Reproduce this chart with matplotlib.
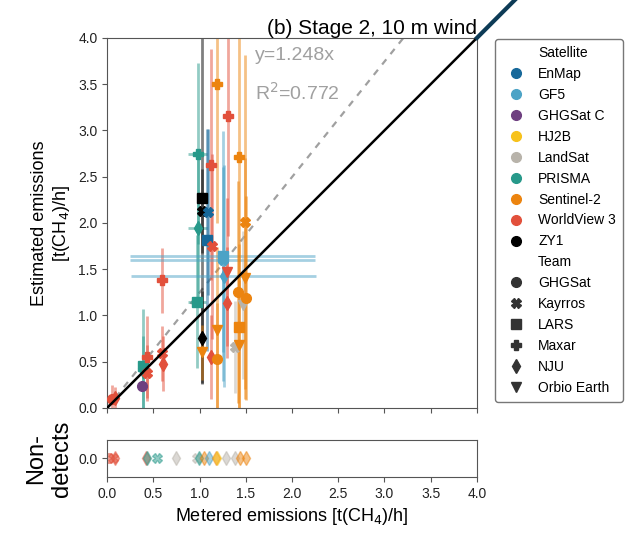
import numpy as np
import matplotlib.pyplot as plt
from matplotlib.lines import Line2D

plt.rcParams['font.family'] = ['Liberation Sans', 'DejaVu Sans']

sat_names = ["EnMap", "GF5", "GHGSat C", "HJ2B", "LandSat", "PRISMA",
             "Sentinel-2", "WorldView 3", "ZY1"]
sat_colors = ["#17689a", "#4ca3c6", "#6e3f80", "#f7c21c", "#b8b3aa",
              "#27998a", "#ec840f", "#e2503b", "#000000"]
team_names = ["GHGSat", "Kayrros", "LARS", "Maxar", "NJU", "Orbio Earth"]
team_markers = ["o", "X", "s", "P", "d", "v"]

# detected releases: satellite, team, metered, estimated, x error, y error
sat = ["WorldView 3", "WorldView 3", "GHGSat C", "PRISMA", "PRISMA",
       "WorldView 3", "WorldView 3", "WorldView 3", "WorldView 3", "WorldView 3",
       "PRISMA", "PRISMA", "PRISMA", "ZY1", "ZY1", "ZY1", "Sentinel-2",
       "EnMap", "EnMap", "WorldView 3", "WorldView 3", "WorldView 3",
       "Sentinel-2", "Sentinel-2", "Sentinel-2", "GF5", "GF5", "GF5",
       "WorldView 3", "WorldView 3", "WorldView 3", "LandSat", "LandSat",
       "Sentinel-2", "Sentinel-2", "Sentinel-2", "Sentinel-2", "Sentinel-2",
       "Sentinel-2", "Sentinel-2"]
team = ["GHGSat", "NJU", "GHGSat", "LARS", "Orbio Earth",
        "Maxar", "Kayrros", "Maxar", "Kayrros", "NJU",
        "Maxar", "NJU", "LARS", "LARS", "Kayrros", "NJU", "Orbio Earth",
        "Kayrros", "LARS", "Maxar", "Kayrros", "NJU",
        "Maxar", "Orbio Earth", "GHGSat", "LARS", "Kayrros", "NJU",
        "Maxar", "Orbio Earth", "NJU", "Kayrros", "Orbio Earth",
        "Maxar", "LARS", "Orbio Earth", "GHGSat", "Kayrros",
        "Orbio Earth", "GHGSat"]
metered = [0.05, 0.09, 0.38, 0.39, 0.39,
           0.43, 0.43, 0.59, 0.59, 0.60,
           0.98, 0.98, 0.97, 1.03, 1.03, 1.03, 1.03,
           1.09, 1.08, 1.12, 1.13, 1.12,
           1.19, 1.19, 1.19, 1.25, 1.25, 1.26,
           1.31, 1.30, 1.30, 1.38, 1.47,
           1.43, 1.43, 1.43, 1.42, 1.49,
           1.49, 1.50]
estimated = [0.10, 0.11, 0.24, 0.45, 0.38,
             0.55, 0.38, 1.38, 0.59, 0.48,
             2.75, 1.95, 1.15, 2.27, 2.13, 0.76, 0.60,
             2.12, 1.82, 2.63, 1.75, 0.55,
             3.50, 0.84, 0.53, 1.64, 1.60, 1.43,
             3.16, 1.47, 1.14, 0.66, 1.11,
             2.71, 0.87, 0.68, 1.25, 2.01,
             1.40, 1.19]
x_err = [0, 0, 0, 0, 0,
         0, 0, 0, 0, 0,
         0.1, 0.1, 0.1, 0, 0, 0, 0,
         0, 0, 0, 0, 0,
         0, 0, 0, 1.0, 1.0, 1.0,
         0, 0, 0, 0, 0,
         0, 0, 0, 0, 0,
         0, 0]
y_err = [0.15, 0.12, 0.05, 0.62, 0.4,
         0.44, 0.3, 0.35, 0.3, 0.3,
         0.98, 0.8, 0.72, 2.0, 0.45, 0.5, 0.3,
         0.9, 1.2, 1.25, 1.0, 0.45,
         1.5, 0.9, 0.6, 1.35, 1.0, 1.2,
         1.3, 0.8, 0.6, 0.5, 0.8,
         1.5, 0.9, 0.7, 1.2, 1.8,
         1.3, 1.1]

# non-detects
nd_sat = ["WorldView 3", "WorldView 3", "WorldView 3", "WorldView 3", "PRISMA",
          "PRISMA", "LandSat", "LandSat", "PRISMA", "Sentinel-2", "GF5",
          "Sentinel-2", "HJ2B", "LandSat", "LandSat", "Sentinel-2", "Sentinel-2"]
nd_team = ["GHGSat", "Kayrros", "NJU", "NJU", "NJU",
           "Kayrros", "NJU", "Kayrros", "NJU", "NJU", "NJU",
           "NJU", "NJU", "NJU", "NJU", "NJU", "NJU"]
nd_metered = [0.025, 0.06, 0.09, 0.42, 0.43,
              0.54, 0.75, 0.97, 0.99, 1.05, 1.10,
              1.18, 1.19, 1.29, 1.38, 1.44, 1.50]

slope = 1.248
r2 = 0.772

col = dict(zip(sat_names, sat_colors))
mk = dict(zip(team_names, team_markers))

fig = plt.figure(figsize=(6.3, 5.34), dpi=100)
ax = fig.add_axes([0.170, 0.236, 0.587, 0.693])
ax2 = fig.add_axes([0.170, 0.107, 0.587, 0.069], sharex=ax)

xs = np.array([0, 4])
ax.plot(xs, slope * xs, '--', color='#a0a0a0', lw=1.6, dashes=(3, 3), zorder=1)
ax.plot(xs, xs, '-', color='black', lw=1.8, zorder=4)
ax.plot([4, 4.48], [4, 4.48], '-', color='#0d3b56', lw=3, clip_on=False, zorder=5)

for s, t, x, y, xe, ye in zip(sat, team, metered, estimated, x_err, y_err):
    c = col[s]
    ax.errorbar(x, y, xerr=xe if xe > 0 else None, yerr=ye, fmt='none',
                ecolor=c, elinewidth=2, alpha=0.5, zorder=2)
    ax.plot(x, y, marker=mk[t], color=c, ms=7, ls='none', zorder=3)

for s, t, x in zip(nd_sat, nd_team, nd_metered):
    ax2.plot(x, 0, marker=mk[t], color=col[s], ms=7, alpha=0.5, ls='none')

ax.text(1.6, 3.9, f"y={slope}x", color='#a0a0a0', fontsize=14, va='top')
ax.text(1.6, 3.52, f"R$^2$={r2}", color='#a0a0a0', fontsize=14, va='top')

ax.set_xlim(0, 4)
ax.set_ylim(0, 4)
ax.set_yticks(np.arange(0, 4.01, 0.5))
ax.set_xticks(np.arange(0, 4.01, 0.5))
ax.tick_params(labelbottom=False)
ax.set_ylabel("Estimated emissions\n[t(CH$_4$)/h]", fontsize=13)
ax.set_title("(b) Stage 2, 10 m wind", loc='right', fontsize=15, pad=3)

ax2.set_ylim(-0.05, 0.05)
ax2.set_yticks([0.0])
ax2.set_yticklabels(["0.0"])
ax2.set_xlabel("Metered emissions [t(CH$_4$)/h]", fontsize=13)
ax2.set_ylabel("Non-\ndetects", fontsize=17)

for a in (ax, ax2):
    a.tick_params(labelsize=10, color='#555555', labelcolor='#222222')
    for sp in a.spines.values():
        sp.set_color('#555555')

handles = [Line2D([], [], ls='none', label="Satellite")]
for n, c in zip(sat_names, sat_colors):
    handles.append(Line2D([], [], marker='o', color=c, ls='none', ms=7, label=n))
handles.append(Line2D([], [], ls='none', label="Team"))
for n, m in zip(team_names, team_markers):
    handles.append(Line2D([], [], marker=m, color='#333333', ls='none', ms=7, label=n))
fig.legend(handles=handles, loc='upper left', bbox_to_anchor=(0.775, 0.94),
           fontsize=10, frameon=True, edgecolor='#555555', handletextpad=0.6,
           labelspacing=0.5, borderpad=0.5)

fig.savefig("out.png", dpi=100)
